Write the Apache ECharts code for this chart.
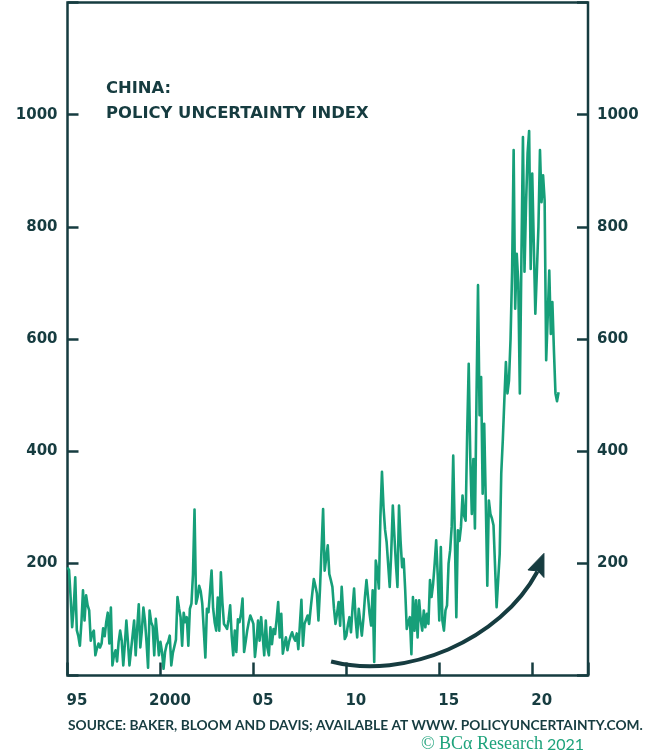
<!DOCTYPE html>
<html>
<head>
<meta charset="utf-8">
<script src="https://cdn.jsdelivr.net/npm/echarts@6/dist/echarts.min.js"></script>
<style>
  html, body { margin: 0; padding: 0; background: #ffffff; }
  #chart { width: 656px; height: 755px; }
</style>
</head>
<body>
<div id="chart"></div>
<script>
// China economic policy uncertainty index, monthly, starting January 1995
const startYear = 1995;

const epu1995to1999 = [
  193, 188, 140, 86, 120, 175, 81, 70, 53, 95, 152, 98,
  143, 125, 116, 62, 75, 80, 36, 48, 57, 50, 57, 84,
  70, 95, 112, 57, 121, 18, 36, 45, 25, 60, 80, 62,
  18, 55, 98, 60, 18, 45, 71, 98, 36, 85, 127, 50,
  80, 121, 98, 60, 14, 116, 95, 88, 36, 101, 70, 36
];
const epu2000to2004 = [
  60, 42, 12, 42, 55, 60, 71, 18, 40, 52, 64, 140,
  120, 104, 53, 112, 95, 104, 53, 119, 128, 180, 296, 128,
  140, 160, 150, 128, 80, 32, 119, 113, 150, 187, 120, 95,
  80, 139, 80, 184, 130, 92, 88, 83, 100, 125, 70, 36,
  80, 42, 100, 95, 110, 137, 42, 60, 80, 95, 107, 100
];
const epu2005to2009 = [
  92, 33, 60, 98, 62, 104, 70, 36, 98, 50, 36, 86,
  56, 83, 74, 100, 131, 68, 110, 39, 55, 68, 45, 60,
  70, 77, 68, 62, 75, 47, 90, 135, 53, 92, 95, 107,
  92, 120, 146, 172, 160, 146, 98, 155, 158, 297, 187, 210,
  232, 181, 170, 158, 120, 92, 110, 131, 89, 158, 110, 65
];
const epu2010to2014 = [
  71, 90, 104, 77, 120, 155, 100, 68, 119, 95, 71, 101,
  140, 170, 140, 110, 89, 152, 24, 205, 187, 155, 283, 363,
  300, 260, 238, 235, 158, 220, 303, 250, 199, 158, 303, 240,
  193, 208, 152, 83, 95, 104, 38, 140, 80, 134, 68, 134,
  100, 80, 116, 86, 110, 92, 170, 140, 163, 199, 241, 178
];
const epu2015to2021 = [
  98, 229, 98, 80, 116, 125, 200, 223, 265, 392, 253, 104,
  259, 240, 265, 321, 285, 276, 431, 556, 389, 288, 386, 262,
  491, 696, 464, 532, 324, 449, 312, 160, 312, 288, 280, 268,
  265, 122, 170, 217, 360, 420, 491, 559, 503, 526, 600, 720,
  937, 654, 752, 700, 503, 740, 960, 720, 840, 931, 971, 725,
  895, 895, 645, 720, 800, 937, 844, 892, 847, 562, 640, 722,
  609, 666, 580, 503, 489, 505
];

const xTickYears = [1995, 2000, 2005, 2010, 2015, 2020];
const xTickLabels = ['95', '2000', '05', '10', '15', '20'];
const yTickValues = [200, 400, 600, 800, 1000];

const epu = [].concat(epu1995to1999, epu2000to2004, epu2005to2009, epu2010to2014, epu2015to2021);
const lineData = epu.map((v, i) => [startYear + i / 12, v]);

// Curved arrow annotation, given in (year, index) units
const arrowCurve = [[2009.18, 25], [2013.17, -8.9], [2018.29, 62.4], [2020.28, 185.5]];
const arrowHead = [[2020.63, 217.7], [2019.77, 188.2], [2020.31, 186.4], [2020.63, 174.8]];

const dark = '#163c40';
const green = '#169f79';

const chart = echarts.init(document.getElementById('chart'), null, { renderer: 'canvas' });

const yAxisCommon = {
  type: 'value',
  min: 0,
  max: 1200,
  interval: 200,
  splitLine: { show: false },
  axisLine: { show: false },
  axisTick: { show: true, inside: true, length: 11, lineStyle: { color: dark, width: 2.5 } },
  axisLabel: {
    color: dark,
    fontFamily: 'DejaVu Sans',
    fontWeight: 'bold',
    fontSize: 15,
    formatter: v => (yTickValues.indexOf(v) >= 0 ? String(v) : '')
  }
};

chart.setOption({
  animation: false,
  backgroundColor: '#ffffff',
  title: {
    text: 'CHINA:\nPOLICY UNCERTAINTY INDEX',
    left: 106,
    top: 76.5,
    padding: 0,
    textStyle: {
      color: dark,
      fontFamily: 'DejaVu Sans',
      fontWeight: 'bold',
      fontSize: 16.4,
      lineHeight: 25
    }
  },
  grid: {
    left: 67.5,
    right: 68,
    top: 2.5,
    bottom: 79.5,
    show: true,
    borderColor: dark,
    borderWidth: 2.5,
    backgroundColor: 'transparent'
  },
  xAxis: {
    type: 'value',
    min: 1995,
    max: 2023,
    interval: 5,
    splitLine: { show: false },
    axisLine: { show: false },
    axisTick: { show: true, inside: true, length: 13, lineStyle: { color: dark, width: 2.5 } },
    axisLabel: {
      color: dark,
      fontFamily: 'DejaVu Sans',
      fontWeight: 'bold',
      fontSize: 15,
      margin: 18,
      padding: [0, 0, 0, 19],
      formatter: v => {
        const k = xTickYears.indexOf(Math.round(v));
        return k >= 0 && Math.abs(v - xTickYears[k]) < 1e-6 ? xTickLabels[k] : '';
      }
    }
  },
  yAxis: [
    Object.assign({ position: 'left' }, yAxisCommon, { axisLabel: Object.assign({}, yAxisCommon.axisLabel, { margin: 10 }) }),
    Object.assign({ position: 'right' }, yAxisCommon, { axisLabel: Object.assign({}, yAxisCommon.axisLabel, { margin: 9 }) })
  ],
  series: [
    {
      type: 'line',
      data: lineData,
      showSymbol: false,
      symbol: 'none',
      lineStyle: { color: green, width: 2.6, join: 'round' },
      z: 2
    },
    {
      type: 'custom',
      coordinateSystem: 'cartesian2d',
      clip: false,
      silent: true,
      z: 3,
      data: [arrowCurve[0]],
      renderItem: function (params, api) {
        const c = arrowCurve.map(p => api.coord(p));
        const h = arrowHead.map(p => api.coord(p));
        return {
          type: 'group',
          children: [
            {
              type: 'bezierCurve',
              shape: {
                x1: c[0][0], y1: c[0][1],
                cpx1: c[1][0], cpy1: c[1][1],
                cpx2: c[2][0], cpy2: c[2][1],
                x2: c[3][0], y2: c[3][1]
              },
              style: { stroke: dark, lineWidth: 4, fill: 'none', lineCap: 'butt' }
            },
            {
              type: 'polygon',
              shape: { points: h },
              style: { fill: dark, stroke: dark, lineWidth: 1 }
            }
          ]
        };
      }
    }
  ],
  graphic: [
    {
      type: 'text',
      x: 68,
      y: 725.5,
      style: {
        text: 'SOURCE: BAKER, BLOOM AND DAVIS; AVAILABLE AT WWW. POLICYUNCERTAINTY.COM.',
        fill: dark,
        font: 'bold 13.75px Lato',
        textAlign: 'left',
        textVerticalAlign: 'middle'
      }
    },
    {
      type: 'text',
      x: 543,
      y: 744.5,
      style: {
        text: '\u00a9 BC\u03b1 Research',
        fill: '#1fa37c',
        font: '18px "Liberation Serif"',
        textAlign: 'right',
        textVerticalAlign: 'middle'
      }
    },
    {
      type: 'text',
      x: 547,
      y: 745,
      style: {
        text: '2021',
        fill: '#1fa37c',
        font: '16px Lato',
        textAlign: 'left',
        textVerticalAlign: 'middle'
      }
    }
  ]
});
</script>
</body>
</html>
